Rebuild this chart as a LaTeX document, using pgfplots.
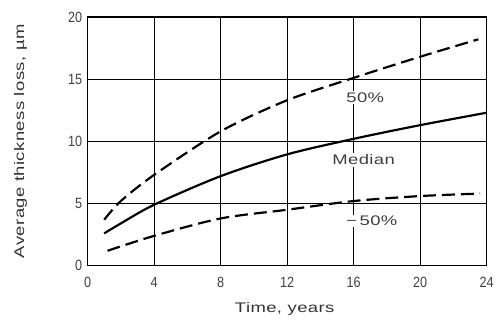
\documentclass[border=0pt]{standalone}
\usepackage{fontspec}
\setmainfont{Liberation Sans}
\newfontfamily\labelfont[FakeStretch=1.33,LetterSpace=3]{Liberation Sans}
\newfontfamily\tickfont[FakeStretch=0.85]{Liberation Sans}
\usepackage{pgfplots}
\pgfplotsset{compat=1.18}
\begin{document}
\begin{tikzpicture}
\begin{axis}[
  scale only axis,
  width=401bp, height=250bp,
  xmin=0, xmax=24, ymin=0, ymax=20,
  xtick={0,4,...,24}, ytick={0,5,...,20},
  grid=major,
  major grid style={black, line width=0.7pt},
  axis line style={black, line width=1.1pt},
  tick style={draw=none},
  /pgf/number format/assume math mode=true,
  tick label style={font=\tickfont\fontsize{15}{15}\selectfont, text=black!75},
  xticklabel style={yshift=-8bp},
  yticklabel style={xshift=-2bp},
  xlabel={\labelfont Time, years},
  ylabel={\labelfont Average thickness loss, µm},
  label style={font=\fontsize{14}{14}\selectfont, text=black!80},
  xlabel style={at={(axis description cs:0.494,-0.172)}, anchor=center},
  ylabel style={at={(axis description cs:-0.168,0.5)}, anchor=center},
  clip=false,
]
\addplot[black, line width=2.2pt, dash pattern=on 13bp off 6bp, smooth, tension=0.5] coordinates {
 (1,3.7) (2,5.2) (4,7.3) (8,10.8) (12,13.3) (16,15.1) (20,16.8) (23.5,18.2)};
\addplot[black, line width=2.2pt, smooth, tension=0.5] coordinates {
 (1,2.6) (2,3.4) (4,4.9) (8,7.2) (12,8.95) (16,10.2) (20,11.3) (24,12.3)};
\addplot[black, line width=2.2pt, dash pattern=on 13bp off 6bp, smooth, tension=0.5] coordinates {
 (1.2,1.2) (4,2.4) (8,3.8) (12,4.5) (16,5.2) (20,5.6) (23.6,5.8)};
\node[fill=white, inner sep=1.5bp, font=\labelfont\fontsize{14}{14}\selectfont, text=black!75] at (axis cs:16.7,13.5) {50\%};
\node[fill=white, inner sep=1.5bp, font=\labelfont\fontsize{14}{14}\selectfont, text=black!75] at (axis cs:16.6,8.5) {Median};
\node[fill=white, inner sep=1.5bp, font=\labelfont\fontsize{14}{14}\selectfont, text=black!75] at (axis cs:17.1,3.6) {−\,50\%};
\end{axis}
\path (current axis.south west) ++(-88bp,-56bp) rectangle ([shift={(8bp,17bp)}]current axis.north east);
\end{tikzpicture}
\end{document}
